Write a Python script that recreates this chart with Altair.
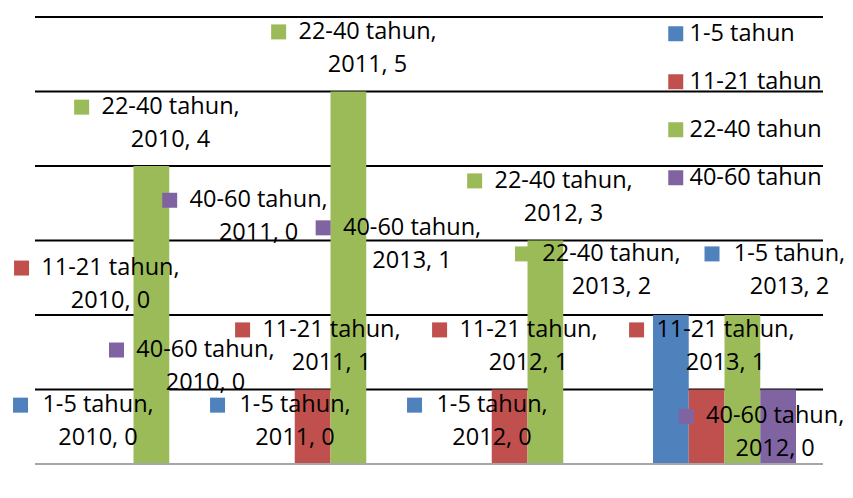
import altair as alt
import pandas as pd

years = ["2010", "2011", "2012", "2013"]
series = ["1-5 tahun", "11-21 tahun", "22-40 tahun", "40-60 tahun"]
colors = ["#4F81BD", "#C0504D", "#9BBB59", "#8064A2"]
v_1_5 = [0, 0, 0, 2]
v_11_21 = [0, 1, 1, 1]
v_22_40 = [4, 5, 3, 2]
v_40_60 = [0, 0, 0, 1]
grid_values = [1, 2, 3, 4, 5, 6]

# data labels (as placed in the original, in category / value units)
lab_series = ["22-40 tahun", "22-40 tahun", "40-60 tahun", "40-60 tahun",
              "22-40 tahun", "11-21 tahun", "22-40 tahun", "1-5 tahun",
              "11-21 tahun", "11-21 tahun", "11-21 tahun", "40-60 tahun",
              "1-5 tahun", "1-5 tahun", "1-5 tahun", "40-60 tahun"]
lab_year = ["2011", "2010", "2011", "2013", "2012", "2010", "2013", "2013",
            "2011", "2012", "2013", "2010", "2010", "2011", "2012", "2012"]
lab_value = [5, 4, 0, 1, 3, 0, 2, 2, 1, 1, 1, 0, 0, 0, 0, 0]
lab_x = [1.688, 0.688, 1.135, 1.914, 2.683, 0.383, 2.926, 3.830,
         1.505, 2.505, 3.505, 0.865, 0.320, 1.320, 2.320, 3.757]
lab_y = [5.80, 4.79, 3.54, 3.17, 3.80, 2.63, 2.82, 2.82,
         1.80, 1.80, 1.80, 1.53, 0.79, 0.79, 0.79, 0.64]

rows = []
for s, vals in zip(series, [v_1_5, v_11_21, v_22_40, v_40_60]):
    for y, v in zip(years, vals):
        rows.append({"year": y, "series": s, "value": v})
bars_df = pd.DataFrame(rows)

lab_df = pd.DataFrame({
    "series": lab_series,
    "line1": [s + "," for s in lab_series],
    "line2": [f"{y}, {v}" for y, v in zip(lab_year, lab_value)],
    "lx": lab_x,
    "ly": lab_y,
})
# marker sits left of the first text line
lab_df["sx"] = lab_df["lx"] - (lab_df["line1"].str.len() * 11.4 / 2 + 20.5) / 197.0

FONT = "Open Sans"
FS = 23.5
yscale = alt.Scale(domain=[0, 6], nice=False, zero=True)
cscale = alt.Scale(domain=series, range=colors)

grid = alt.Chart(pd.DataFrame({"g": grid_values})).mark_rule(
    color="black", strokeWidth=2).encode(
    y=alt.Y("g:Q", scale=yscale, axis=None)
)

bars = alt.Chart(bars_df).mark_bar().encode(
    x=alt.X("year:N", sort=years, axis=None,
            scale=alt.Scale(paddingInner=0.274, paddingOuter=0.137)),
    xOffset=alt.XOffset("series:N", sort=series,
                        scale=alt.Scale(paddingInner=0, paddingOuter=0)),
    y=alt.Y("value:Q", scale=yscale, axis=None),
    color=alt.Color("series:N", scale=cscale, sort=series,
                    legend=alt.Legend(orient="none", legendX=629, legendY=5,
                                      title=None, symbolType="square",
                                      symbolSize=225, symbolStrokeWidth=0,
                                      labelFontSize=FS, labelFont=FONT,
                                      labelColor="black", rowPadding=23,
                                      labelOffset=2, padding=0, labelLimit=0)),
)

base_df = pd.DataFrame({"v": [0]})
baseline = alt.Chart(base_df).mark_rule(color="#A6A6A6", strokeWidth=2).encode(
    y=alt.Y("v:Q", scale=yscale, axis=None)
)

xq = alt.Scale(domain=[0, 4], nice=False, zero=False)
lab_base = alt.Chart(lab_df)
squares = lab_base.mark_square(size=225, opacity=1).encode(
    x=alt.X("sx:Q", scale=xq, axis=None),
    y=alt.Y("ly:Q", scale=yscale, axis=None),
    color=alt.Color("series:N", scale=cscale, legend=None),
)
text1 = lab_base.mark_text(font=FONT, fontSize=FS, color="black",
                           align="center", baseline="middle").encode(
    x=alt.X("lx:Q", scale=xq, axis=None),
    y=alt.Y("ly:Q", scale=yscale, axis=None),
    text="line1:N",
)
text2 = lab_base.mark_text(font=FONT, fontSize=FS, color="black",
                           align="center", baseline="middle", dy=33).encode(
    x=alt.X("lx:Q", scale=xq, axis=None),
    y=alt.Y("ly:Q", scale=yscale, axis=None),
    text="line2:N",
)

labels = alt.layer(squares, text1, text2)

chart = alt.layer(grid, bars, baseline, labels).resolve_scale(
    x="independent", color="independent"
).properties(
    width=788, height=447,
    autosize=alt.AutoSizeParams(type="none"),
    padding={"left": 27, "top": 9, "right": 22, "bottom": 14},
).configure_view(stroke=None)

chart.save("out.html", embed_options={"renderer": "svg", "actions": False})
